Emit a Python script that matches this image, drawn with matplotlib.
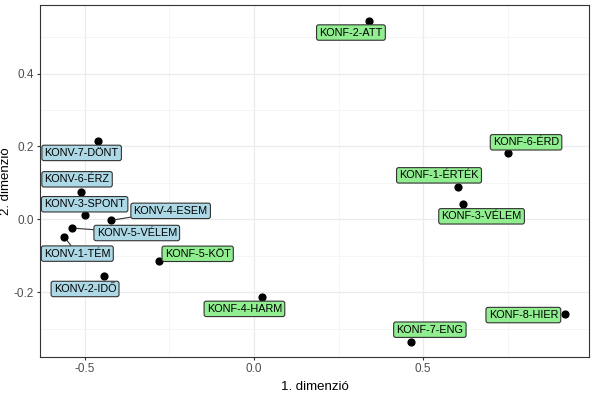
import matplotlib.pyplot as plt
from matplotlib.ticker import MultipleLocator

plt.rcParams['font.family'] = ['Liberation Sans', 'DejaVu Sans']

# coordinates of the items on the two dimensions
labels = ['KONF-2-ATT', 'KONF-6-ÉRD', 'KONF-1-ÉRTÉK', 'KONF-3-VÉLEM', 'KONF-8-HIER',
          'KONF-7-ENG', 'KONF-4-HARM', 'KONF-5-KÖT', 'KONV-2-IDŐ', 'KONV-1-TÉM',
          'KONV-5-VÉLEM', 'KONV-4-ESEM', 'KONV-3-SPONT', 'KONV-6-ÉRZ', 'KONV-7-DÖNT']
dim1 = [0.340, 0.750, 0.602, 0.617, 0.921, 0.464, 0.025, -0.282,
        -0.445, -0.561, -0.539, -0.424, -0.500, -0.513, -0.461]
dim2 = [0.544, 0.181, 0.089, 0.041, -0.261, -0.336, -0.213, -0.114,
        -0.157, -0.049, -0.024, -0.003, 0.011, 0.074, 0.215]

# label offsets (pixels) as placed by the repel layout
offsets = [(-18, -11.5), (18.5, 11), (-18.5, 11.5), (19, -12), (-42, -0.7),
           (19, 12), (-18, -12), (39, 7), (-18.5, -12.5), (13, -16.5),
           (65, -5), (60, 9.5), (-0.3, 11), (-3.5, 13), (-16.5, -12)]
leaders = ['KONV-1-TÉM', 'KONV-5-VÉLEM', 'KONV-4-ESEM']

fig = plt.figure(figsize=(5.96, 3.94), dpi=100)
ax = fig.add_axes([0.0671, 0.0939, 0.9212, 0.8934])

ax.scatter(dim1, dim2, s=24, color='black', zorder=3)

for lab, x, y, off in zip(labels, dim1, dim2, offsets):
    fc = '#90EE90' if lab.startswith('KONF') else '#ADD8E6'
    arrow = None
    if lab in leaders:
        arrow = dict(arrowstyle='-', color='#333333', lw=0.8, shrinkA=0, shrinkB=3)
    ax.annotate(lab, (x, y), xytext=off, textcoords='offset pixels',
                ha='center', va='center', fontsize=7.8, color='black',
                bbox=dict(boxstyle='round,pad=0.25,rounding_size=0.2', fc=fc,
                          ec='#333333', lw=0.8),
                arrowprops=arrow, zorder=4)

ax.set_xlim(-0.633, 0.991)
ax.set_ylim(-0.378, 0.588)
ax.xaxis.set_major_locator(MultipleLocator(0.5))
ax.xaxis.set_minor_locator(MultipleLocator(0.25))
ax.yaxis.set_major_locator(MultipleLocator(0.2))
ax.yaxis.set_minor_locator(MultipleLocator(0.1))
ax.xaxis.set_major_formatter(plt.FuncFormatter(lambda v, p: f'{v:.1f}'))
ax.yaxis.set_major_formatter(plt.FuncFormatter(lambda v, p: f'{v:.1f}'))
ax.grid(which='major', color='#EBEBEB', lw=0.9)
ax.grid(which='minor', color='#F2F2F2', lw=0.5)
ax.set_axisbelow(True)
ax.tick_params(which='major', length=2.5, color='#333333', labelsize=8.5, labelcolor='#4D4D4D', pad=2)
ax.tick_params(which='minor', length=0)
for sp in ax.spines.values():
    sp.set_color('#333333')
    sp.set_linewidth(0.8)

ax.set_xlabel('1. dimenzió', fontsize=9.5, labelpad=4)
ax.set_ylabel('2. dimenzió', fontsize=9.5)
ax.yaxis.set_label_coords(-0.051, 0.5)

fig.savefig('out.png', dpi=100)
